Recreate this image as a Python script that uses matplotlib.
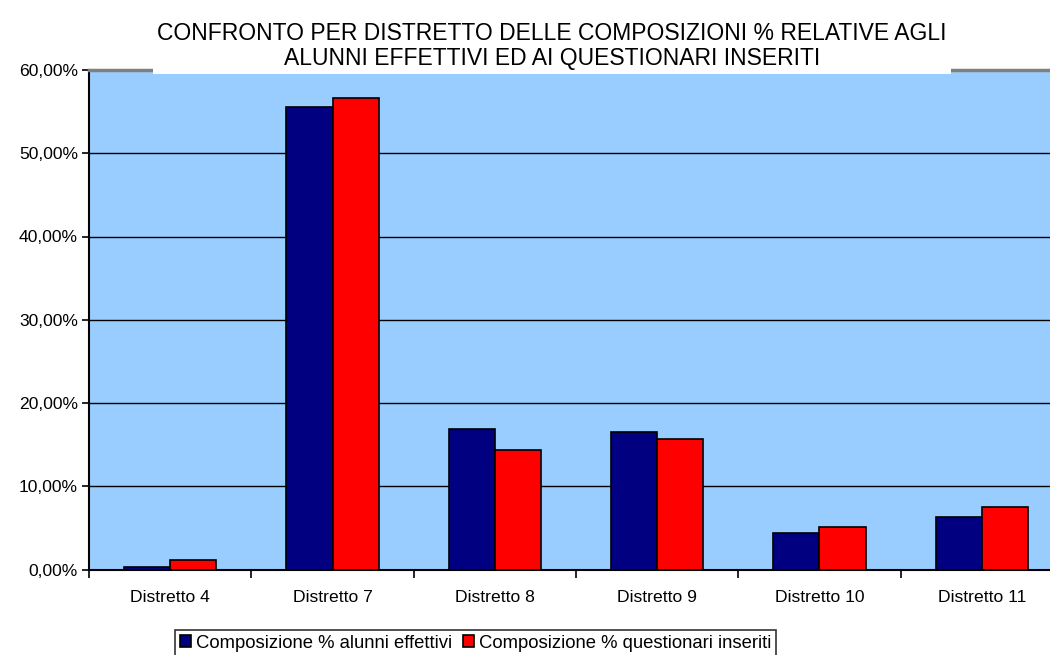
import numpy as np
import matplotlib.pyplot as plt
from matplotlib.ticker import FuncFormatter

plt.rcParams['font.family'] = ['Liberation Sans', 'DejaVu Sans']

# dati (%)
distretti = ["Distretto 4", "Distretto 7", "Distretto 8", "Distretto 9", "Distretto 10", "Distretto 11"]
alunni_effettivi = [0.3, 55.6, 16.9, 16.5, 4.4, 6.3]
questionari_inseriti = [1.1, 56.6, 14.3, 15.7, 5.1, 7.5]

titolo = "CONFRONTO PER DISTRETTO DELLE COMPOSIZIONI % RELATIVE AGLI\nALUNNI EFFETTIVI ED AI QUESTIONARI INSERITI"
serie = ["Composizione % alunni effettivi", "Composizione % questionari inseriti"]

fig = plt.figure(figsize=(10.5, 6.55), dpi=100)
# l'area del grafico esce a destra, come nell'originale
ax = fig.add_axes([89/1050, 85.5/655, 974/1050, 499.5/655])
ax.set_facecolor("#99CCFF")

x = np.arange(len(distretti))
w = 0.285
ax.bar(x - w/2, alunni_effettivi, w, color="#000080", edgecolor="black", linewidth=1.2,
       label=serie[0], zorder=3)
ax.bar(x + w/2, questionari_inseriti, w, color="#FF0000", edgecolor="black", linewidth=1.2,
       label=serie[1], zorder=3)

ax.set_xlim(-0.5, len(distretti) - 0.5)
ax.set_ylim(0, 60)
ax.set_yticks(np.arange(0, 61, 10))
ax.yaxis.set_major_formatter(FuncFormatter(lambda v, p: f"{v:.2f}%".replace(".", ",")))
ax.grid(axis="y", color="black", linewidth=1, zorder=1)

ax.set_xticks(x)
ax.set_xticklabels(distretti)
ax.set_xticks(np.arange(-0.5, len(distretti)), minor=True)
ax.tick_params(axis="x", which="major", length=0, pad=15, labelsize=12.6)
ax.tick_params(axis="x", which="minor", length=6, width=1.2, direction="out")
ax.tick_params(axis="y", length=5, width=1.2, direction="out", labelsize=12.6, pad=3)

ax.spines["right"].set_visible(False)
ax.spines["top"].set_color("#808080")
ax.spines["top"].set_linewidth(2.5)
ax.spines["left"].set_linewidth(1.5)
ax.spines["bottom"].set_linewidth(1.5)

fig.text(552/1050, 1 - 46/655, titolo, ha="center", va="center", fontsize=16.5,
         linespacing=1.1, zorder=5,
         bbox=dict(facecolor="white", edgecolor="none", pad=3))

leg = fig.legend(loc="upper left", bbox_to_anchor=(175/1050, 1 - 630/655), ncol=2,
                 fontsize=13.3, frameon=True, fancybox=False, edgecolor="black",
                 handlelength=0.6, handleheight=0.6, handletextpad=0.3,
                 columnspacing=0.55, borderpad=0.25, borderaxespad=0)
leg.get_frame().set_linewidth(1.2)

fig.savefig("out.png", dpi=100)
